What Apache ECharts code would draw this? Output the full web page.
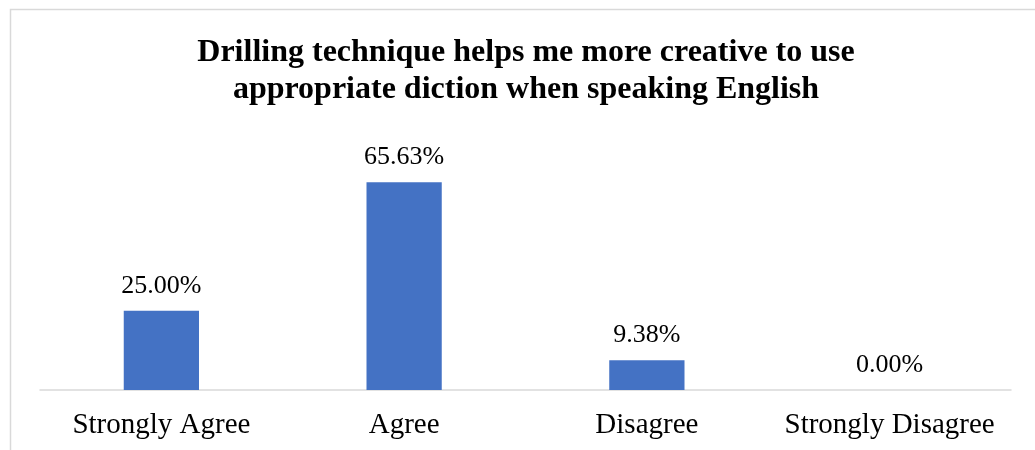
<!DOCTYPE html>
<html><head><meta charset="utf-8">
<script src="https://cdn.jsdelivr.net/npm/echarts@6/dist/echarts.min.js"></script>
<style>html,body{margin:0;padding:0;background:#fff}#c{width:1035px;height:450px}</style>
</head><body><div id="c"></div>
<script>
const titleText = 'Drilling technique helps me more creative to use\nappropriate diction when speaking English';
const categories = ['Strongly Agree', 'Agree', 'Disagree', 'Strongly Disagree'];
const values = [25.00, 65.63, 9.38, 0.00];

const chart = echarts.init(document.getElementById('c'));
chart.setOption({
  animation: false,
  title: {
    text: titleText, left: 521, top: 29, textAlign: 'center',
    textStyle: {fontFamily: 'Liberation Serif', fontSize: 32, fontWeight: 'bold', color: '#000', lineHeight: 37}
  },
  graphic: [{type: 'rect', shape: {x: 10.5, y: 9.5, width: 1040, height: 460}, style: {fill: 'none', stroke: '#d9d9d9', lineWidth: 1.5}, silent: true}],
  grid: {left: 40, right: 24, top: 170, bottom: 60},
  xAxis: {
    type: 'category', data: categories,
    axisLine: {lineStyle: {color: '#d9d9d9', width: 1.5}},
    axisTick: {show: false},
    axisLabel: {fontFamily: 'Liberation Serif', fontSize: 29, color: '#000', margin: 21, interval: 0}
  },
  yAxis: {type: 'value', min: 0, max: 69.5, show: false, splitLine: {show: false}},
  series: [{
    type: 'bar', data: values, barWidth: '31%',
    itemStyle: {color: '#4472C4'},
    label: {show: true, position: 'top', distance: 12, formatter: p => p.value.toFixed(2) + '%',
      fontFamily: 'Liberation Serif', fontSize: 26, color: '#000'}
  }]
});
</script></body></html>
